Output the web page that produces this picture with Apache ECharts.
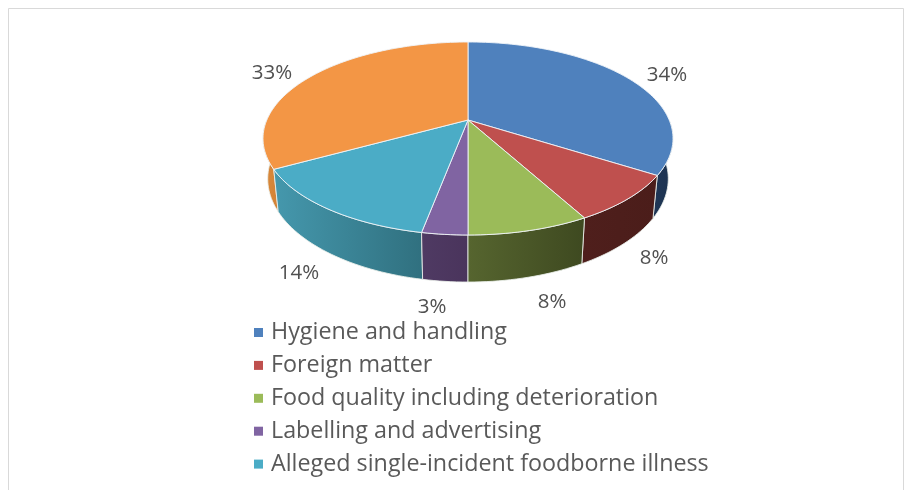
<!DOCTYPE html>
<html><head><meta charset="utf-8">
<style>html,body{margin:0;padding:0;background:#fff}#c{width:915px;height:490px}</style>
<script src="https://cdn.jsdelivr.net/npm/echarts@6/dist/echarts.min.js"></script>
</head><body><div id="c"></div>
<script>
const categories = ['Hygiene and handling','Foreign matter','Food quality including deterioration','Labelling and advertising','Alleged single-incident foodborne illness','Other'];
const values = [34,8,8,3,14,33];
const legendItems = categories.slice(0,5);
const topColors = ['#4f81bd','#bf504e','#9bbb59','#8064a2','#4bacc6','#f39645'];
const wallFrom = ['#1f3656','#4f1f1c','#56652f','#4f3a63','#4598ad','#dc8a3c'];
const wallTo   = ['#1d3350','#4b1d1a','#3e4920','#4a345c','#30707f','#d08236'];
const labelAnchors = [[667,75],[654,258],[552,302],[432,307],[299,273],[272,73]];

const cx=468, cy=120, A=201.2, B=92.95, K=0.1917;
const XS=0.977, YS=1.07, YO=39;
const rad=d=>d*Math.PI/180;
function topPt(t){const s=Math.sin(rad(t)),c=Math.cos(rad(t)),d=1+K*c;return [cx+A*s/d,cy-B*c/d];}
function botPt(t){const p=topPt(t);return [cx+XS*(p[0]-cx),cy+YO+YS*(p[1]-cy)];}
function arc(a,b,f){const n=Math.max(2,Math.ceil(Math.abs(b-a)/1.5)),o=[];for(let i=0;i<=n;i++)o.push(f(a+(b-a)*i/n));return o;}
const total=values.reduce((s,v)=>s+v,0);
let acc=0;const ranges=values.map(v=>{const a=acc;acc+=v;return [a/total*360,acc/total*360];});

function wallItem(i){
  return function(){
    const r=ranges[i];const a=Math.max(r[0],90),b=Math.min(r[1],270);
    if(b<=a) return {type:'group',children:[]};
    const pts=arc(a,b,topPt).concat(arc(a,b,botPt).reverse());
    return {type:'polygon',shape:{points:pts},
      style:{fill:new echarts.graphic.LinearGradient(0,0,1,0,[{offset:0,color:wallFrom[i]},{offset:1,color:wallTo[i]}]),
      stroke:'rgba(235,240,235,0.85)',lineWidth:1}};
  };
}
function topItem(i){
  return function(params,api){
    const v=api.value(0);const r=ranges[i];
    return {type:'group',children:[
      {type:'polygon',shape:{points:[[cx,cy]].concat(arc(r[0],r[1],topPt))},
       style:{fill:topColors[i],stroke:'rgba(240,244,248,0.9)',lineWidth:1}},
      {type:'text',z2:50,style:{text:Math.round(v/total*100)+'%',x:labelAnchors[i][0],y:labelAnchors[i][1],
       align:'center',verticalAlign:'middle',font:'20.5px "Open Sans"',fill:'#505050'}}
    ]};
  };
}
const series=[];
[5,0,1,4,3,2].forEach(i=>series.push({type:'custom',name:categories[i]+' wall',coordinateSystem:'none',z:2,silent:true,renderItem:wallItem(i),data:[[values[i]]]}));
categories.forEach((c,i)=>series.push({type:'custom',name:c,coordinateSystem:'none',z:3,silent:true,renderItem:topItem(i),itemStyle:{color:topColors[i]},data:[[values[i]]]}));

const chart=echarts.init(document.getElementById('c'),null,{renderer:'canvas'});
chart.setOption({
  animation:false,backgroundColor:'#fff',
  graphic:[{type:'polyline',z:0,shape:{points:[[8.5,490],[8.5,8.5],[903.5,8.5],[903.5,490]]},style:{stroke:'#d9d9d9',lineWidth:1,fill:null}}],
  legend:{data:legendItems,orient:'vertical',left:254,top:321,itemWidth:9,itemHeight:9,itemGap:9.9,padding:0,icon:'rect',selectedMode:false,
    textStyle:{fontFamily:'Open Sans',fontSize:23.3,color:'#595959',padding:[0,0,0,3],lineHeight:22}},
  series
});
</script></body></html>
